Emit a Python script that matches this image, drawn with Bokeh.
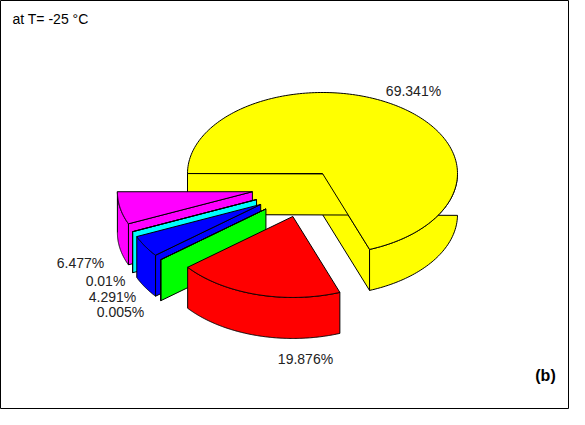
import numpy as np
from bokeh.plotting import figure
from bokeh.models import Range1d
from bokeh.embed import file_html
from bokeh.resources import INLINE

# slice values (percent), counter-clockwise order starting at the red/yellow cut
labels = ["69.341%", "6.477%", "0.01%", "4.291%", "0.005%", "19.876%"]
values = [69.341, 6.477, 0.01, 4.291, 0.005, 19.876]
colors = ["yellow", "magenta", "cyan", "blue", "lime", "red"]
explode = [0.0, 0.5, 0.5, 0.5, 0.5, 0.55]
label_pos = [(413, 90), (80, 262), (105, 280), (112, 296), (120, 311), (305, 358)]

cx, cy = 322, 173      # pie centre in page pixels
rx, ry = 135, 81       # ellipse radii
depth = 41
nudge_x = [0, -4, -4, -4, -4, -10]
nudge_y = [0, 10, 10, 10, 10, 0]

p = figure(width=569, height=409, output_backend="svg", toolbar_location=None,
           x_range=Range1d(0, 569), y_range=Range1d(409, 0), min_border=0)
p.axis.visible = False
p.grid.visible = False
p.outline_line_color = "black"
p.outline_line_width = 1


def proj(a, ox, oy):
    return ox + rx * np.cos(a), oy - ry * np.sin(a)


slices = []
a = np.radians(-69.6)
for v, c, e, nx, ny in zip(values, colors, explode, nudge_x, nudge_y):
    span = np.radians(v * 3.6)
    a0, a1 = a, a + span
    mid = (a0 + a1) / 2
    ox, oy = cx + e * rx * np.cos(mid) + nx, cy - e * ry * np.sin(mid) + ny
    slices.append((a0, a1, ox, oy, c))
    a = a1

order = sorted(range(len(slices)), key=lambda i: slices[i][3])
for i in order:
    a0, a1, ox, oy, c = slices[i]
    xs, ys = [], []
    # radial faces
    for edge, nrm in ((a0, a0 - np.pi / 2), (a1, a1 + np.pi / 2)):
        if np.sin(nrm) < 0:
            ex, ey = proj(edge, ox, oy)
            xs.append([ox, ex, ex, ox])
            ys.append([oy, ey, ey + depth, oy + depth])
    # outer front wall
    t = np.linspace(a0, a1, 200)
    front = t[np.sin(t) < 0]
    if len(front) > 1:
        tx, ty = proj(front, ox, oy)
        xs.append(list(tx) + list(tx[::-1]))
        ys.append(list(ty) + list((ty + depth)[::-1]))
    if xs:
        p.patches(xs, ys, fill_color=c, line_color="black", line_width=1)
    tx, ty = proj(t, ox, oy)
    p.patch([ox] + list(tx), [oy] + list(ty), fill_color=c, line_color="black", line_width=1)

for lab, (lx, ly) in zip(labels, label_pos):
    p.text([lx], [ly], text=[lab], text_font_size="10.5pt", text_align="center",
           text_baseline="middle", text_color="#222222")

p.text([12], [18], text=["at T= -25 \u00b0C"], text_font_size="10.5pt",
       text_baseline="middle")
p.text([545], [375], text=["(b)"], text_font_size="12pt", text_font_style="bold",
       text_align="center", text_baseline="middle")

open("out.html", "w").write(file_html(p, INLINE))
